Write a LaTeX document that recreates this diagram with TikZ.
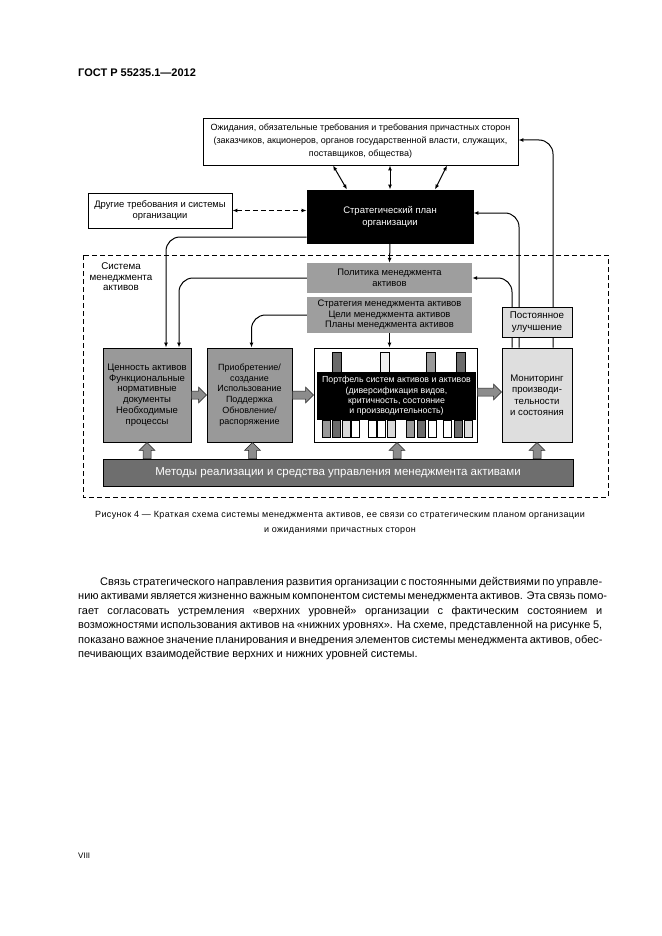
\documentclass[tikz,border=0pt]{standalone}
\usepackage{fontspec}
\setmainfont{Liberation Sans}
\usetikzlibrary{calc,arrows.meta}
\newcommand{\dfont}{\fontsize{9.4}{11}\selectfont}
\newcommand{\jline}[2]{\makebox[#1][s]{#2}}
\def\hblock(#1)(#2){\draw[blockarrow] ($(#1)+(0,-4)$) -- ($(#2)+(-8,-4)$) -- ($(#2)+(-8,-8)$) -- (#2) -- ($(#2)+(-8,8)$) -- ($(#2)+(-8,4)$) -- ($(#1)+(0,4)$) -- cycle;}
\def\vblock(#1)(#2){\draw[blockarrow] ($(#1)+(-4,0)$) -- ($(#2)+(-4,8)$) -- ($(#2)+(-8,8)$) -- (#2) -- ($(#2)+(8,8)$) -- ($(#2)+(4,8)$) -- ($(#1)+(4,0)$) -- cycle;}
\tikzset{
  box/.style={draw, line width=0.9pt, inner sep=1pt, align=center, font=\dfont},
  darkbox/.style={box, fill=black, text=white},
  greybox/.style={inner sep=1pt, align=center, font=\dfont, fill=black!38},
  lightbox/.style={box, fill=black!13},
  midbox/.style={box, fill=black!40},
  link/.style={line width=1pt, -{Latex[length=5pt,width=4pt]}},
  duallink/.style={line width=1pt, {Latex[length=5pt,width=4pt]}-{Latex[length=5pt,width=4pt]}},
  blockarrow/.style={fill=black!45, draw=black!85, line width=0.5pt},
  bodyline/.style={anchor=base west, inner sep=0pt, font=\fontsize{11}{14}\selectfont},
  captext/.style={anchor=base, inner sep=0pt, font=\fontsize{9}{11}\selectfont\addfontfeature{LetterSpace=4}},
}
\begin{document}
\begin{tikzpicture}[x=1pt,y=-1pt]
  %%%%% START %%%%%
  \useasboundingbox[fill=white] (0,0) rectangle (661,936);

  \node[anchor=base west, inner sep=0pt, font=\fontsize{11}{13}\selectfont\bfseries] (gost) at (78,77) {ГОСТ Р 55235.1—2012};

  % system boundary
  \draw[line width=0.7pt, dash pattern=on 5pt off 3pt] (83,255) rectangle (608,497);
  \node[inner sep=0pt, align=center, font=\fontsize{9.8}{10.5}\selectfont] (syslabel) at (121,277) {Система\\менеджмента\\активов};

  % upper level
  \node[box, minimum width=315, minimum height=47, font=\fontsize{9}{13}\selectfont] (expect) at (360.5,141.5)
    {Ожидания, обязательные требования и требования причастных сторон\\(заказчиков, акционеров, органов государственной власти, служащих,\\поставщиков, общества)};
  \node[box, minimum width=144, minimum height=35] (other) at (160,210.5) {Другие требования и системы\\организации};
  \node[darkbox, minimum width=166, minimum height=53, font=\fontsize{9.5}{12}\selectfont] (plan) at (390,216.5) {Стратегический план\\организации};

  \draw[duallink] ([xshift=-57pt]plan.north |- expect.south) -- ([xshift=-43pt]plan.north);
  \draw[duallink] (plan.north |- expect.south) -- (plan.north);
  \draw[duallink] ([xshift=57pt]plan.north |- expect.south) -- ([xshift=45pt]plan.north);
  \draw[duallink, dash pattern=on 5pt off 3pt] (other.east) -- (other.east -| plan.west);

  % policy and strategy
  \node[greybox, minimum width=165, minimum height=30] (policy) at (389.5,278) {Политика менеджмента\\активов};
  \node[greybox, minimum width=165, minimum height=36, font=\fontsize{9.4}{10.5}\selectfont] (strat) at (389.5,315) {Стратегия менеджмента активов\\Цели менеджмента активов\\Планы менеджмента активов};
  \draw[link] (plan.south) -- (policy.north);

  % lower level
  \node[midbox, minimum width=88, minimum height=94, font=\fontsize{9.5}{10.8}\selectfont] (value) at (147,395) {Ценность активов\\Функциональные\\нормативные\\документы\\Необходимые\\процессы};
  \node[midbox, minimum width=85, minimum height=94, font=\fontsize{9}{10.8}\selectfont] (acq) at (249.5,395) {Приобретение/\\создание\\Использование\\Поддержка\\Обновление/\\распоряжение};
  \node[box, fill=white, minimum width=163, minimum height=94] (port) at (395.5,395) {};
  \node[lightbox, minimum width=70, minimum height=94, font=\fontsize{9.6}{11.5}\selectfont] (monitor) at (537,395) {Мониторинг\\производи-\\тельности\\и состояния};
  \node[darkbox, draw=none, minimum width=159, minimum height=48, font=\fontsize{8.8}{10.3}\selectfont] (core) at (396.5,396) {Портфель систем активов и активов\\(диверсификация видов,\\критичность, состояние\\и производительность)};
  \node[box, fill=black!57, text=white, minimum width=470, minimum height=27, font=\fontsize{11.5}{13}\selectfont] (methods) at (338,472.5) {Методы реализации и средства управления менеджмента активами};

  % portfolio bars
  \foreach \xa/\shade in {332/black!58, 380/black!6, 426/black!40, 456/black!58}
    \draw[fill=\shade, line width=0.4pt] (\xa,352) rectangle ++(9,20);
  \foreach \xa/\shade in {322/black!40, 332/black!58, 342/black!15, 351/white, 368/white, 377/white, 387/black!15, 406/black!40, 417/black!58, 428/white, 443/white, 454/black!58, 464/black!15}
    \draw[fill=\shade, line width=0.4pt] (\xa,420) rectangle ++(8,17);

  % connections to the lower level
  \draw[link, rounded corners=14pt] ([yshift=-20.5pt]plan.west) -| ([xshift=19pt]value.north);
  \draw[link, rounded corners=14pt] (policy.west) -| ([xshift=32pt]value.north);
  \draw[link, rounded corners=14pt] (strat.west) -| ([xshift=2pt]acq.north);
  \draw[link] (strat.south) -- (strat.south |- port.north);

  % feedback from monitoring
  \draw[link, rounded corners=14pt] ([xshift=-25pt]monitor.north) |- (policy.east);
  \draw[link, rounded corners=14pt] ([xshift=-18pt]monitor.north) |- ([yshift=3.5pt]plan.east);
  \draw[link, rounded corners=14pt] ([xshift=16pt]monitor.north) |- ([yshift=1.5pt]expect.east);
  \node[lightbox, minimum width=70, minimum height=30, font=\fontsize{9.8}{12}\selectfont] (improve) at (537,322) {Постоянное\\улучшение};

  % block arrows
  \hblock(value.east)(acq.west)
  \hblock(acq.east)(port.west)
  \hblock([yshift=3pt]port.east)([yshift=3pt]monitor.west)
  \vblock(value.south |- methods.north)(value.south)
  \vblock([xshift=3pt]acq.south |- methods.north)([xshift=3pt]acq.south)
  \vblock([xshift=1.5pt]port.south |- methods.north)([xshift=1.5pt]port.south)
  \vblock(monitor.south |- methods.north)(monitor.south)

  % caption
  \node[captext] (cap1) at (340,517) {Рисунок 4 — Краткая схема системы менеджмента активов, ее связи со стратегическим планом организации};
  \node[captext] (cap2) at (340,532) {и ожиданиями причастных сторон};

  % body text
  \node[bodyline] (l1) at (100,585) {\jline{502pt}{Связь стратегического направления развития организации с постоянными действиями по управле-}};
  \node[bodyline] (l2) at (78,599.5) {\jline{524pt}{нию активами является жизненно важным компонентом системы менеджмента активов. Эта связь помо-}};
  \node[bodyline] (l3) at (78,614) {\jline{524pt}{гает согласовать устремления «верхних уровней» организации с фактическим состоянием и}};
  \node[bodyline] (l4) at (78,628.5) {\jline{524pt}{возможностями использования активов на «нижних уровнях». На схеме, представленной на рисунке 5,}};
  \node[bodyline] (l5) at (78,643) {\jline{524pt}{показано важное значение планирования и внедрения элементов системы менеджмента активов, обес-}};
  \node[bodyline] (l6) at (78,657.5) {печивающих взаимодействие верхних и нижних уровней системы.};

  \node[anchor=base west, inner sep=0pt, font=\fontsize{8}{10}\selectfont] (page) at (78,858) {VIII};
  %%%%% END %%%%%
\end{tikzpicture}
\end{document}
